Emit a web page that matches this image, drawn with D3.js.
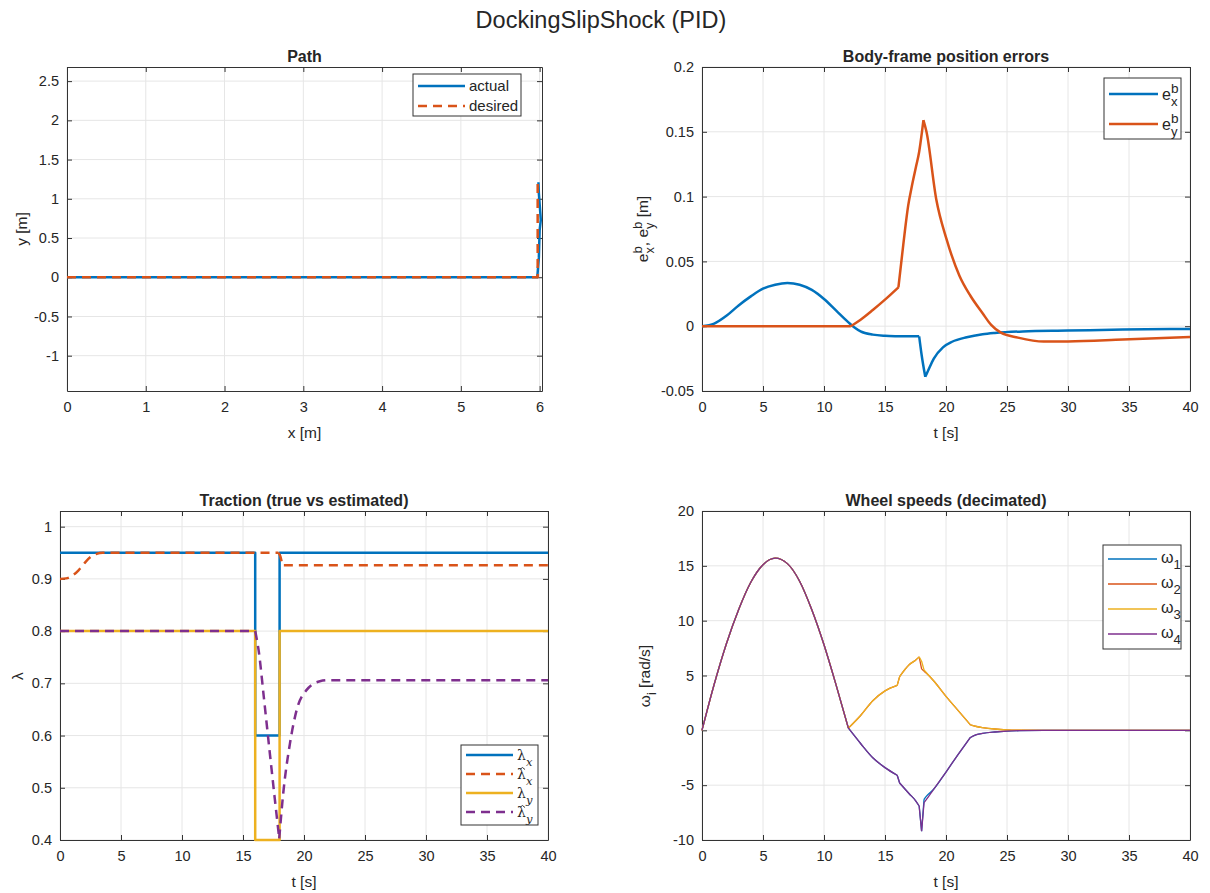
<!DOCTYPE html>
<html>
<head>
<meta charset="utf-8">
<script src="https://cdn.jsdelivr.net/npm/d3@7"></script>
<style>
	body { margin: 0; background: #fff; }
	svg text { font-family: "Liberation Sans", Arial, sans-serif; fill: #262626; white-space: pre; }
</style>
</head>
<body>
<svg id="fig" width="1210" height="893"></svg>
<script>
/*
*	Data
*/
var pathActX = [0, 5.97, 5.99, 6.0, 6.015, 5.99, 5.985];
var pathActY = [0, 0, 0.25, 0.6, 0.73, 1.07, 1.21];
var pathDesX = [0, 5.975, 5.975];
var pathDesY = [0, 0, 1.21];

var errXT = [0, 1, 2, 3, 4, 5, 6, 7, 8, 9, 10, 11, 12, 12.5, 13, 14, 15, 16, 17, 17.8, 18.0, 18.3, 18.5, 19, 19.75, 20.5, 21.7, 23, 24, 26.3, 30, 34.5, 40];
var errXV = [0, 0.002, 0.008, 0.016, 0.023, 0.029, 0.032, 0.0333, 0.032, 0.028, 0.021, 0.012, 0.003, -0.001, -0.004, -0.0065, -0.0074, -0.0077, -0.0078, -0.0078, -0.022, -0.039, -0.035, -0.025, -0.0163, -0.012, -0.0085, -0.0062, -0.0052, -0.004, -0.0034, -0.0026, -0.0021];
var errYT = [0, 12.2, 13, 14, 15, 16.1, 16.5, 16.9, 17.2, 17.54, 17.79, 18.03, 18.15, 18.4, 19.2, 20.05, 21.1, 22, 23, 23.7, 24.5, 25.9, 28, 30, 34.5, 40];
var errYV = [0, 0, 0.005, 0.0125, 0.0205, 0.030, 0.063, 0.093, 0.108, 0.123, 0.134, 0.150, 0.159, 0.150, 0.098, 0.067, 0.039, 0.0235, 0.01, 0.001, -0.005, -0.0088, -0.0119, -0.0118, -0.0103, -0.0083];

var lamStepT = [0, 16, 16, 18, 18, 40];
var lamX = [0.95, 0.95, 0.6, 0.6, 0.95, 0.95];
var lamY = [0.8, 0.8, 0.4, 0.4, 0.8, 0.8];
var lamXhatT = [0, 0.5, 1, 1.5, 2, 2.5, 3, 3.5, 17.9, 18.05, 18.2, 18.35, 40];
var lamXhat = [0.9, 0.901, 0.906, 0.916, 0.93, 0.942, 0.948, 0.95, 0.95, 0.944, 0.931, 0.926, 0.926];
var lamYhatT = [0, 16, 16.3, 16.7, 17.2, 17.6, 17.97, 18.3, 18.85, 19.4, 20.2, 21.3, 22, 40];
var lamYhat = [0.8, 0.8, 0.76, 0.675, 0.566, 0.48, 0.403, 0.49, 0.585, 0.649, 0.687, 0.704, 0.706, 0.706];

var wT = [0, 1, 2, 3, 4, 5, 6, 7, 8, 9, 10, 11, 12, 13, 14, 15, 16, 16.2, 17, 17.5, 17.8, 18.0, 18.2, 18.4, 19, 20, 21, 22, 22.5, 23, 24, 25, 26, 28, 30, 35, 40];
var w1 = [0, 4.2, 7.9, 11.0, 13.5, 15.1, 15.7, 15.2, 13.6, 11.0, 7.8, 4.1, 0.2, -1.2, -2.5, -3.4, -4.1, -4.8, -5.8, -6.4, -6.9, -9.2, -6.3, -6.0, -5.35, -3.8, -2.2, -0.65, -0.4, -0.28, -0.15, -0.07, -0.03, 0, 0, 0, 0];
var w2 = [0, 4.2, 7.9, 11.0, 13.5, 15.1, 15.7, 15.2, 13.6, 11.0, 7.8, 4.1, 0.2, 1.35, 2.7, 3.6, 4.1, 4.9, 6.0, 6.4, 6.7, 5.6, 5.4, 5.2, 4.5, 3.1, 1.8, 0.5, 0.35, 0.25, 0.12, 0.05, 0.02, 0, 0, 0, 0];
var w3 = [0, 4.2, 7.9, 11.0, 13.5, 15.1, 15.7, 15.2, 13.6, 11.0, 7.8, 4.1, 0.2, 1.35, 2.7, 3.6, 4.1, 4.9, 6.0, 6.4, 6.7, 6.3, 5.5, 5.25, 4.5, 3.1, 1.8, 0.5, 0.35, 0.25, 0.12, 0.05, 0.02, 0, 0, 0, 0];
var w4 = [0, 4.2, 7.9, 11.0, 13.5, 15.1, 15.7, 15.2, 13.6, 11.0, 7.8, 4.1, 0.2, -1.2, -2.5, -3.4, -4.1, -4.8, -5.8, -6.4, -6.9, -9.2, -6.6, -6.3, -5.35, -3.8, -2.2, -0.65, -0.4, -0.28, -0.15, -0.07, -0.03, 0, 0, 0, 0];

var pathXTicks = [0, 1, 2, 3, 4, 5, 6];
var pathYTicks = [-1, -0.5, 0, 0.5, 1, 1.5, 2, 2.5];
var tTicks = [0, 5, 10, 15, 20, 25, 30, 35, 40];
var errTicks = [-0.05, 0, 0.05, 0.1, 0.15, 0.2];
var lamTicks = [0.4, 0.5, 0.6, 0.7, 0.8, 0.9, 1];
var wTicks = [-10, -5, 0, 5, 10, 15, 20];

var BLUE = '#0072BD', ORANGE = '#D95319', YELLOW = '#EDB120', PURPLE = '#7E2F8E';

var svg = d3.select('#fig');

/*
*	Helpers
*/
function panel(o) {
	var g = svg.append('g').attr('transform', 'translate(' + o.left + ',' + o.top + ')');
	var x = d3.scaleLinear().domain(o.xd).range([0, o.w]);
	var y = d3.scaleLinear().domain(o.yd).range([o.h, 0]);

	g.selectAll('line.gx').data(o.xt).enter().append('line').attr('class', 'gx')
		.attr('x1', d => x(d)).attr('x2', d => x(d)).attr('y1', 0).attr('y2', o.h)
		.attr('stroke', '#e6e6e6');
	g.selectAll('line.gy').data(o.yt).enter().append('line').attr('class', 'gy')
		.attr('y1', d => y(d)).attr('y2', d => y(d)).attr('x1', 0).attr('x2', o.w)
		.attr('stroke', '#e6e6e6');

	var fmt = d => String(d);
	var axes = [
		g.append('g').attr('transform', 'translate(0,' + o.h + ')')
			.call(d3.axisBottom(x).tickValues(o.xt).tickSize(-5).tickSizeOuter(0).tickPadding(11).tickFormat(fmt)),
		g.append('g').call(d3.axisTop(x).tickValues(o.xt).tickSize(-5).tickSizeOuter(0).tickFormat('')),
		g.append('g').call(d3.axisLeft(y).tickValues(o.yt).tickSize(-5).tickSizeOuter(0).tickPadding(8).tickFormat(fmt)),
		g.append('g').attr('transform', 'translate(' + o.w + ',0)')
			.call(d3.axisRight(y).tickValues(o.yt).tickSize(-5).tickSizeOuter(0).tickFormat(''))
	];
	axes.forEach(function (a) {
		a.attr('font-family', null).attr('font-size', null);
		a.selectAll('.domain, .tick line').attr('stroke', '#333').attr('stroke-width', 1);
		a.selectAll('text').style('font-size', '14.5px').attr('fill', '#262626');
	});

	g.append('text').attr('x', o.w / 2).attr('y', -5).attr('text-anchor', 'middle')
		.style('font-size', '16px').style('font-weight', 'bold').attr('fill', '#000').text(o.title);
	g.append('text').attr('x', o.w / 2).attr('y', o.h + 47).attr('text-anchor', 'middle')
		.style('font-size', '15.5px').text(o.xlabel);

	return { g: g, x: x, y: y };
}

// breaks: x values where the curve has a sharp corner
function drawLine(p, xs, ys, color, width, dash, curve, breaks) {
	var pts = xs.map((v, i) => [v, ys[i]]);
	var segs = [[]];
	pts.forEach(function (d, i) {
		segs[segs.length - 1].push(d);
		if (breaks && breaks.indexOf(d[0]) >= 0 && i > 0 && i < pts.length - 1) segs.push([d]);
	});
	var line = d3.line().x(d => p.x(d[0])).y(d => p.y(d[1])).curve(curve || d3.curveLinear);
	p.g.append('path')
		.attr('d', segs.map(s => line(s)).join(''))
		.attr('fill', 'none')
		.attr('stroke', color)
		.attr('stroke-width', width)
		.attr('stroke-dasharray', dash || null)
		.attr('stroke-linejoin', 'round');
}

// text with stacked super/subscripts, returns width
function rich(g, parts, fs, family) {
	var cx = 0;
	parts.forEach(function (p) {
		var t = g.append('text').attr('x', cx).attr('y', 0).style('font-size', fs + 'px').text(p.t);
		if (family) t.style('font-family', family);
		var w = t.node().getComputedTextLength();
		if (p.hat) {
			// small circumflex drawn as a path above the letter
			var hx = cx + w / 2 + 1, hy = -fs * 0.82;
			g.append('path')
				.attr('d', 'M' + (hx - 2.6) + ',' + (hy + 2) + 'L' + hx + ',' + hy + 'L' + (hx + 2.6) + ',' + (hy + 2))
				.attr('fill', 'none').attr('stroke', '#262626').attr('stroke-width', 0.9);
		}
		cx += w;
		var sw = 0;
		if (p.sup) {
			var s = g.append('text').attr('x', cx).attr('y', -fs * 0.42).style('font-size', (fs * 0.85) + 'px').text(p.sup);
			sw = Math.max(sw, s.node().getComputedTextLength());
		}
		if (p.sub) {
			var b = g.append('text').attr('x', cx).attr('y', fs * 0.4).style('font-size', (fs * 0.82) + 'px').text(p.sub);
			if (p.subItalic) b.style('font-family', family).style('font-style', 'italic');
			sw = Math.max(sw, b.node().getComputedTextLength());
		}
		cx += sw;
	});
	return cx;
}

function yLabel(cx, cy, parts, fs) {
	var outer = svg.append('g').attr('transform', 'translate(' + cx + ',' + cy + ') rotate(-90)');
	var inner = outer.append('g');
	var w = rich(inner, parts, fs);
	inner.attr('transform', 'translate(' + (-w / 2) + ',0)');
}

function legend(box, items, family) {
	var g = svg.append('g');
	g.append('rect').attr('x', box.x).attr('y', box.y).attr('width', box.w).attr('height', box.h)
		.attr('fill', '#fff').attr('stroke', '#333').attr('stroke-width', 1);
	items.forEach(function (it) {
		g.append('line').attr('x1', box.x + 5).attr('x2', box.x + box.len).attr('y1', it.y).attr('y2', it.y)
			.attr('stroke', it.color).attr('stroke-width', it.width).attr('stroke-dasharray', it.dash || null);
		var tg = g.append('g').attr('transform', 'translate(' + (box.x + box.len + 4) + ',' + (it.y + it.dy) + ')');
		rich(tg, it.parts, it.fs, family);
	});
}

/*
*	Figure title
*/
svg.append('text').attr('x', 601).attr('y', 28).attr('text-anchor', 'middle')
	.style('font-size', '23.5px').attr('fill', '#000').text('DockingSlipShock (PID)');

/*
*	Path
*/
var p1 = panel({ left: 67, top: 67, w: 475, h: 324, xd: [0, 6.03], yd: [-1.45, 2.68],
	xt: pathXTicks, yt: pathYTicks, title: 'Path', xlabel: 'x [m]' });
drawLine(p1, pathActX, pathActY, BLUE, 2.5);
drawLine(p1, pathDesX, pathDesY, ORANGE, 2.5, '9,6');
yLabel(27, 229, [{ t: 'y [m]' }], 15.5);
legend({ x: 413, y: 74, w: 108, h: 42, len: 52 }, [
	{ color: BLUE, width: 2.5, y: 86, dy: 5, fs: 15, parts: [{ t: 'actual' }] },
	{ color: ORANGE, width: 2.5, dash: '9,6', y: 106, dy: 5, fs: 15, parts: [{ t: 'desired' }] }
]);

/*
*	Body-frame position errors
*/
var p2 = panel({ left: 702, top: 67, w: 488, h: 324, xd: [0, 40], yd: [-0.05, 0.2],
	xt: tTicks, yt: errTicks, title: 'Body-frame position errors', xlabel: 't [s]' });
drawLine(p2, errXT, errXV, BLUE, 2.5, null, d3.curveMonotoneX, [17.8, 18.3]);
drawLine(p2, errYT, errYV, ORANGE, 2.5, null, d3.curveMonotoneX, [12.2, 16.1, 18.15]);
yLabel(648, 229, [{ t: 'e', sup: 'b', sub: 'x' }, { t: ', e', sup: 'b', sub: 'y' }, { t: ' [m]' }], 15.5);
legend({ x: 1104, y: 78, w: 77, h: 61, len: 54 }, [
	{ color: BLUE, width: 2.5, y: 94, dy: 6, fs: 16, parts: [{ t: 'e', sup: 'b', sub: 'x' }] },
	{ color: ORANGE, width: 2.5, y: 124, dy: 6, fs: 16, parts: [{ t: 'e', sup: 'b', sub: 'y' }] }
]);

/*
*	Traction
*/
var p3 = panel({ left: 60, top: 511, w: 488, h: 329, xd: [0, 40], yd: [0.4, 1.03],
	xt: tTicks, yt: lamTicks, title: 'Traction (true vs estimated)', xlabel: 't [s]' });
drawLine(p3, lamStepT, lamX, BLUE, 2.5);
drawLine(p3, lamXhatT, lamXhat, ORANGE, 2.5, '9,6', d3.curveMonotoneX, [17.9, 18.35]);
drawLine(p3, lamStepT, lamY, YELLOW, 2.5);
drawLine(p3, lamYhatT, lamYhat, PURPLE, 2.5, '9,6', d3.curveMonotoneX, [16, 17.97]);
yLabel(23, 676, [{ t: 'λ' }], 15.5);
var serif = '"DejaVu Serif", "Liberation Serif", serif';
legend({ x: 461, y: 745, w: 77, h: 80, len: 52 }, [
	{ color: BLUE, width: 2.5, y: 755, dy: 5, fs: 14, parts: [{ t: 'λ', sub: 'x', subItalic: true }] },
	{ color: ORANGE, width: 2.5, dash: '9,6', y: 774, dy: 5, fs: 14, parts: [{ t: 'λ', hat: true, sub: 'x', subItalic: true }] },
	{ color: YELLOW, width: 2.5, y: 793, dy: 5, fs: 14, parts: [{ t: 'λ', sub: 'y', subItalic: true }] },
	{ color: PURPLE, width: 2.5, dash: '9,6', y: 812, dy: 5, fs: 14, parts: [{ t: 'λ', hat: true, sub: 'y', subItalic: true }] }
], serif);

/*
*	Wheel speeds
*/
var p4 = panel({ left: 702, top: 511, w: 488, h: 329, xd: [0, 40], yd: [-10, 20],
	xt: tTicks, yt: wTicks, title: 'Wheel speeds (decimated)', xlabel: 't [s]' });
var wBreaks = [12, 16, 16.2, 17.8, 18.0, 18.2, 22];
drawLine(p4, wT, w1, BLUE, 1.3, null, d3.curveMonotoneX, wBreaks);
drawLine(p4, wT, w2, ORANGE, 1.3, null, d3.curveMonotoneX, wBreaks);
drawLine(p4, wT, w3, YELLOW, 1.3, null, d3.curveMonotoneX, wBreaks);
drawLine(p4, wT, w4, PURPLE, 1.3, null, d3.curveMonotoneX, wBreaks);
yLabel(650, 676, [{ t: 'ω', sub: 'i' }, { t: ' [rad/s]' }], 15.5);
legend({ x: 1103, y: 545, w: 78, h: 104, len: 54 }, [
	{ color: BLUE, width: 1.3, y: 559, dy: 4, fs: 16, parts: [{ t: 'ω', sub: '1' }] },
	{ color: ORANGE, width: 1.3, y: 584, dy: 4, fs: 16, parts: [{ t: 'ω', sub: '2' }] },
	{ color: YELLOW, width: 1.3, y: 609, dy: 4, fs: 16, parts: [{ t: 'ω', sub: '3' }] },
	{ color: PURPLE, width: 1.3, y: 634, dy: 4, fs: 16, parts: [{ t: 'ω', sub: '4' }] }
]);
</script>
</body>
</html>
